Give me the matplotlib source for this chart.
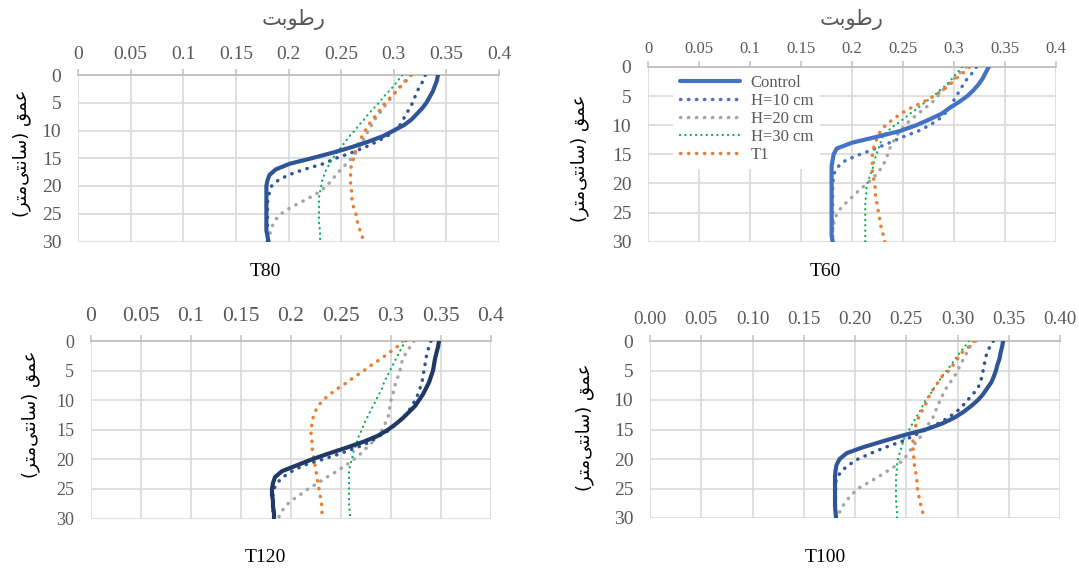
import matplotlib.pyplot as plt

plt.rcParams['font.family'] = ['Liberation Serif', 'DejaVu Sans']

depth = list(range(31))
series_names = ['Control', 'H=10 cm', 'H=20 cm', 'H=30 cm', 'T1']

# moisture profiles, one value per cm of depth (0..30)
t80_control = [0.342, 0.341, 0.339, 0.337, 0.334, 0.331, 0.327, 0.322, 0.317, 0.310, 0.300, 0.290, 0.276, 0.260, 0.242, 0.222,
               0.201, 0.188, 0.182, 0.180, 0.179, 0.179, 0.179, 0.179, 0.179, 0.179, 0.179, 0.179, 0.179, 0.180, 0.181]
t80_h10 = [0.330, 0.328, 0.325, 0.322, 0.320, 0.318, 0.315, 0.312, 0.309, 0.306, 0.301, 0.294, 0.284, 0.273, 0.260, 0.245,
           0.233, 0.215, 0.200, 0.190, 0.184, 0.182, 0.181, 0.180, 0.180, 0.180, 0.180, 0.180, 0.180, 0.180, 0.180]
t80_h20 = [0.316, 0.311, 0.306, 0.302, 0.298, 0.294, 0.290, 0.286, 0.282, 0.279, 0.276, 0.273, 0.270, 0.267, 0.264, 0.260,
           0.255, 0.250, 0.245, 0.241, 0.236, 0.230, 0.221, 0.211, 0.201, 0.193, 0.188, 0.185, 0.183, 0.182, 0.181]
t80_h30 = [0.308, 0.304, 0.300, 0.295, 0.290, 0.286, 0.281, 0.276, 0.272, 0.267, 0.263, 0.258, 0.254, 0.250, 0.246, 0.242,
           0.239, 0.236, 0.234, 0.232, 0.231, 0.230, 0.229, 0.229, 0.229, 0.229, 0.229, 0.229, 0.230, 0.230, 0.230]
t80_t1 = [0.317, 0.312, 0.307, 0.302, 0.297, 0.292, 0.288, 0.284, 0.280, 0.276, 0.273, 0.270, 0.267, 0.265, 0.263, 0.262,
          0.260, 0.259, 0.259, 0.259, 0.259, 0.260, 0.260, 0.261, 0.262, 0.264, 0.265, 0.266, 0.268, 0.270, 0.271]

t60_control = [0.334, 0.331, 0.328, 0.324, 0.319, 0.313, 0.305, 0.296, 0.288, 0.276, 0.263, 0.247, 0.224, 0.200, 0.185, 0.182,
               0.181, 0.180, 0.180, 0.180, 0.180, 0.180, 0.180, 0.180, 0.180, 0.180, 0.180, 0.180, 0.180, 0.180, 0.181]
t60_h10 = [0.322, 0.318, 0.313, 0.309, 0.306, 0.302, 0.299, 0.296, 0.291, 0.285, 0.276, 0.265, 0.250, 0.237, 0.223, 0.208,
           0.194, 0.187, 0.183, 0.182, 0.181, 0.181, 0.181, 0.181, 0.181, 0.181, 0.181, 0.181, 0.181, 0.181, 0.181]
t60_h20 = [0.312, 0.306, 0.300, 0.294, 0.289, 0.284, 0.279, 0.272, 0.265, 0.258, 0.252, 0.247, 0.243, 0.240, 0.237, 0.235,
           0.233, 0.230, 0.226, 0.221, 0.215, 0.208, 0.202, 0.196, 0.190, 0.186, 0.183, 0.182, 0.181, 0.181, 0.181]
t60_h30 = [0.308, 0.303, 0.298, 0.293, 0.286, 0.280, 0.272, 0.265, 0.257, 0.250, 0.242, 0.235, 0.230, 0.228, 0.226, 0.224,
           0.222, 0.221, 0.219, 0.217, 0.215, 0.214, 0.214, 0.213, 0.213, 0.213, 0.213, 0.213, 0.213, 0.213, 0.213]
t60_t1 = [0.315, 0.309, 0.302, 0.296, 0.289, 0.280, 0.270, 0.258, 0.248, 0.240, 0.233, 0.228, 0.225, 0.223, 0.221, 0.220,
          0.220, 0.220, 0.220, 0.221, 0.222, 0.223, 0.223, 0.224, 0.225, 0.226, 0.227, 0.228, 0.229, 0.231, 0.232]

t120_control = [0.348, 0.347, 0.3455, 0.344, 0.343, 0.342, 0.340, 0.338, 0.335, 0.332, 0.328, 0.324, 0.318, 0.312, 0.305, 0.297,
                0.287, 0.273, 0.256, 0.238, 0.221, 0.206, 0.191, 0.184, 0.182, 0.181, 0.181, 0.182, 0.182, 0.183, 0.183]
t120_h10 = [0.340, 0.338, 0.336, 0.335, 0.334, 0.333, 0.332, 0.331, 0.329, 0.327, 0.324, 0.321, 0.317, 0.312, 0.305, 0.299,
            0.289, 0.280, 0.266, 0.250, 0.232, 0.213, 0.201, 0.192, 0.186, 0.183, 0.182, 0.182, 0.182, 0.182, 0.182]
t120_h20 = [0.323, 0.319, 0.315, 0.312, 0.310, 0.309, 0.307, 0.305, 0.303, 0.302, 0.300, 0.299, 0.298, 0.297, 0.294, 0.291,
            0.287, 0.282, 0.276, 0.270, 0.263, 0.255, 0.246, 0.236, 0.227, 0.217, 0.209, 0.200, 0.194, 0.190, 0.187]
t120_h30 = [0.315, 0.311, 0.308, 0.305, 0.302, 0.299, 0.296, 0.293, 0.291, 0.288, 0.285, 0.282, 0.279, 0.276, 0.273, 0.271,
            0.268, 0.266, 0.264, 0.262, 0.261, 0.259, 0.258, 0.258, 0.258, 0.258, 0.258, 0.258, 0.258, 0.259, 0.259]
t120_t1 = [0.312, 0.306, 0.298, 0.290, 0.281, 0.273, 0.264, 0.256, 0.247, 0.239, 0.232, 0.227, 0.224, 0.222, 0.221, 0.220,
           0.220, 0.221, 0.221, 0.222, 0.223, 0.224, 0.225, 0.226, 0.227, 0.228, 0.229, 0.230, 0.231, 0.231, 0.232]

t100_control = [0.3445, 0.3435, 0.342, 0.341, 0.339, 0.3375, 0.3355, 0.333, 0.329, 0.325, 0.320, 0.3135, 0.306, 0.297, 0.285, 0.269,
                0.247, 0.227, 0.208, 0.192, 0.185, 0.182, 0.181, 0.1805, 0.1805, 0.1805, 0.1805, 0.1805, 0.1805, 0.181, 0.1815]
t100_h10 = [0.335, 0.3315, 0.3285, 0.3275, 0.326, 0.325, 0.324, 0.322, 0.320, 0.315, 0.310, 0.305, 0.299, 0.291, 0.281, 0.269,
            0.258, 0.246, 0.230, 0.216, 0.203, 0.194, 0.187, 0.183, 0.181, 0.181, 0.181, 0.181, 0.181, 0.181, 0.181]
t100_h20 = [0.318, 0.312, 0.309, 0.306, 0.303, 0.300, 0.297, 0.293, 0.289, 0.286, 0.283, 0.281, 0.278, 0.276, 0.272, 0.268,
            0.265, 0.260, 0.256, 0.252, 0.248, 0.241, 0.232, 0.223, 0.213, 0.203, 0.197, 0.192, 0.188, 0.185, 0.184]
t100_h30 = [0.311, 0.307, 0.302, 0.298, 0.294, 0.2895, 0.285, 0.281, 0.277, 0.2735, 0.269, 0.266, 0.263, 0.2595, 0.256, 0.253,
            0.249, 0.247, 0.2455, 0.2435, 0.242, 0.241, 0.2407, 0.240, 0.240, 0.240, 0.240, 0.240, 0.2405, 0.241, 0.241]
t100_t1 = [0.316, 0.311, 0.304, 0.300, 0.296, 0.292, 0.285, 0.281, 0.277, 0.273, 0.271, 0.268, 0.265, 0.262, 0.260, 0.258,
           0.257, 0.2565, 0.2565, 0.257, 0.2575, 0.258, 0.259, 0.260, 0.2605, 0.261, 0.262, 0.263, 0.2645, 0.266, 0.268]

x_ticks = [0, 0.05, 0.1, 0.15, 0.2, 0.25, 0.3, 0.35, 0.4]
x_labels_short = ['0', '0.05', '0.1', '0.15', '0.2', '0.25', '0.3', '0.35', '0.4']
x_labels_fixed = ['0.00', '0.05', '0.10', '0.15', '0.20', '0.25', '0.30', '0.35', '0.40']
y_ticks = [0, 5, 10, 15, 20, 25, 30]

# Persian labels written in presentation forms, visual order
moisture_label = '\ufe96\ufe91\ufeee\ufec3\ufead'
depth_label = '(\ufeae\ufe98\ufee3\ufef0\ufe98\ufee7\ufe8e\ufeb3) \ufed6\ufee4\ufecb'

W, H = 1079, 569
fig = plt.figure(figsize=(W / 100, H / 100), dpi=100)
fig.patch.set_facecolor('white')

grid_c = '#d9d9d9'
tick_c = '#595959'
green = '#00B050'
orange = '#ED7D31'
gray = '#A5A5A5'
dots = (0, (0.1, 2.2))


def px_axes(l, r, t, b):
    return fig.add_axes([l / W, 1 - b / H, (r - l) / W, (b - t) / H])


def panel(box, data, c_ctrl, c_h10, xlab, xfs, yfs, xpad, name, name_xy, ylab_xy, title_xy=None):
    ax = px_axes(*box)
    control, h10, h20, h30, t1 = data
    ax.plot(control, depth, color=c_ctrl, lw=3.0, solid_capstyle='round', label=series_names[0], zorder=4)
    ax.plot(h10, depth, color=c_h10, lw=2.5, ls=dots, dash_capstyle='round', label=series_names[1], zorder=3)
    ax.plot(h20, depth, color=gray, lw=2.5, ls=dots, dash_capstyle='round', label=series_names[2], zorder=3)
    ax.plot(h30, depth, color=green, lw=1.6, ls=(0, (0.1, 2.3)), dash_capstyle='round', label=series_names[3], zorder=3)
    ax.plot(t1, depth, color=orange, lw=2.5, ls=dots, dash_capstyle='round', label=series_names[4], zorder=3)

    ax.set_xlim(0, 0.4)
    ax.set_ylim(30, 0)
    ax.xaxis.tick_top()
    ax.set_xticks(x_ticks)
    ax.set_xticklabels(xlab)
    ax.set_yticks(y_ticks)
    ax.tick_params(axis='x', which='both', length=4.5, width=1.1, color='#bfbfbf',
                   labelsize=xfs, labelcolor=tick_c, pad=xpad, top=True, bottom=False)
    ax.tick_params(axis='y', length=0, labelsize=yfs, labelcolor=tick_c, pad=12)
    ax.grid(True, color=grid_c, lw=1.2)
    ax.set_axisbelow(True)
    for s in ['left', 'right', 'bottom']:
        ax.spines[s].set_visible(False)
    ax.spines['top'].set_color('#bfbfbf')
    ax.spines['top'].set_linewidth(1.3)

    fig.text(name_xy[0] / W, 1 - name_xy[1] / H, name, ha='center', va='center', fontsize=14, color='black')
    fig.text(ylab_xy[0] / W, 1 - ylab_xy[1] / H, depth_label, ha='center', va='center', rotation=90,
             fontsize=13, family=['DejaVu Sans'], color='black')
    if title_xy is not None:
        fig.text(title_xy[0] / W, 1 - title_xy[1] / H, moisture_label, ha='center', va='center',
                 fontsize=15, family=['DejaVu Sans'], color=tick_c)
    return ax


panel((78, 499, 75, 241.5), (t80_control, t80_h10, t80_h20, t80_h30, t80_t1), '#2F5597', '#2F5597',
      x_labels_short, 14, 14, 4, 'T80', (265, 272), (22, 153), (294, 20))
ax60 = panel((648, 1056, 67, 241.7), (t60_control, t60_h10, t60_h20, t60_h30, t60_t1), '#4472C4', '#4472C4',
             x_labels_short, 12, 14, 3, 'T60', (825, 272), (580, 158), (852, 20))
panel((91, 491, 341, 518.5), (t120_control, t120_h10, t120_h20, t120_h30, t120_t1), '#203864', '#2F5597',
      x_labels_short, 15.5, 13, 6, 'T120', (265, 557), (31, 414))
panel((650, 1060, 341, 518), (t100_control, t100_h10, t100_h20, t100_h30, t100_t1), '#2F5597', '#2F5597',
      x_labels_fixed, 13.7, 14, 5, 'T100', (825, 557), (585, 427))

leg = ax60.legend(loc='upper left', bbox_to_anchor=(673 / W, 1 - 68 / H), bbox_transform=fig.transFigure,
                  fontsize=12, frameon=True, framealpha=1, facecolor='white', edgecolor='none',
                  handlelength=3.6, handletextpad=0.66, labelspacing=0.12, borderpad=0.4, borderaxespad=0)
for t in leg.get_texts():
    t.set_color(tick_c)

fig.savefig('out.png', dpi=100, facecolor='white')
